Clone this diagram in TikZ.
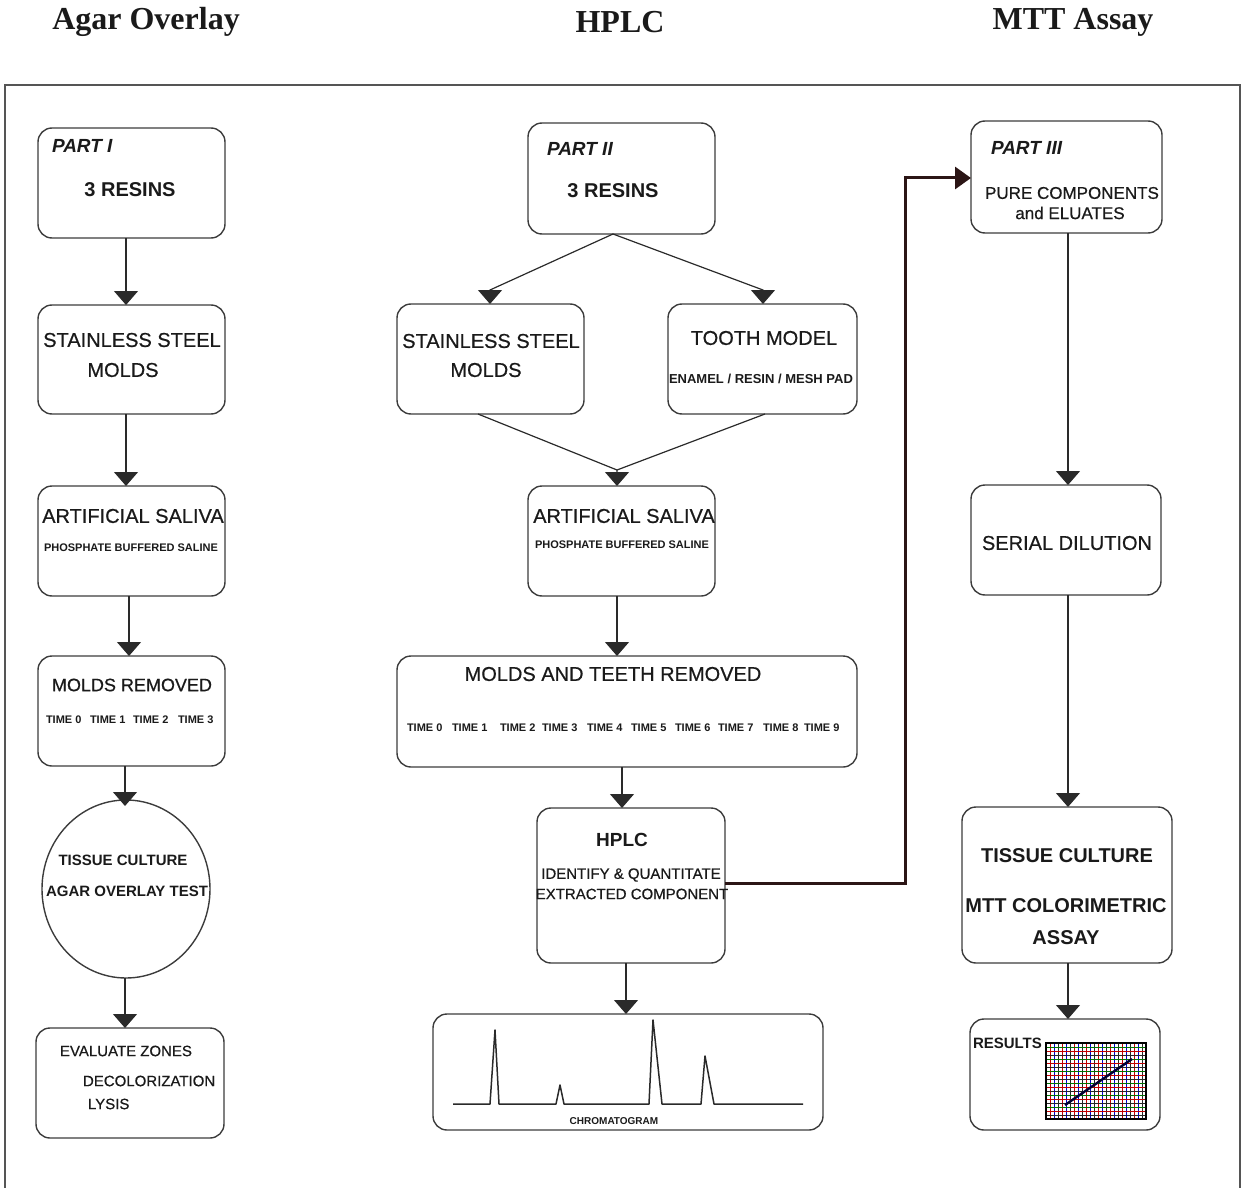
\documentclass[tikz,border=0pt]{standalone}
\usepackage{fontspec}
\setmainfont{Liberation Sans}
\newfontfamily\headfont{Liberation Serif}
\newfontfamily\semibold[FakeBold=0.6]{Liberation Sans}
\usetikzlibrary{arrows.meta,shapes.geometric}
\definecolor{boxc}{HTML}{3C3C3C}
\definecolor{txtc}{HTML}{1A1A1A}
\definecolor{linec}{HTML}{2A2A2A}
\definecolor{brownc}{HTML}{2B1515}
\definecolor{framec}{HTML}{555555}
\begin{document}
\begin{tikzpicture}[x=1pt,y=-1pt,
  box/.style={draw=boxc, line width=1.4pt, rounded corners=14pt, inner sep=0pt, outer sep=0pt},
  txt/.style={inner sep=0pt, outer sep=0pt, text=txtc, font=\fontsize{20}{22}\selectfont\semibold},
  txtb/.style={txt, font=\fontsize{20}{22}\selectfont\bfseries},
  part/.style={txt, anchor=west, font=\fontsize{19}{22}\selectfont\bfseries\itshape},
  tiny/.style={txt, font=\fontsize{11}{12}\selectfont\bfseries},
  mid/.style={txt, font=\fontsize{15}{17}\selectfont\semibold},
  midb/.style={txt, font=\fontsize{15}{17}\selectfont\bfseries},
  head/.style={txt, font=\fontsize{32}{34}\selectfont\headfont\bfseries},
  arr/.style={draw=linec, line width=1.2pt, -{Triangle[width=24pt,length=14pt]}},
  plain/.style={draw=linec, line width=1.2pt},
  thickarr/.style={draw=brownc, line width=3pt, -{Triangle[width=22pt,length=16pt]}}
]
\useasboundingbox (0,0) rectangle (1243,1188);
% headings
\node[head] (h1) at (146,22) {Agar Overlay};
\node[head] (h2) at (620,22) {HPLC};
\node[head] (h3) at (1073,22) {MTT Assay};
% frame
\draw[framec, line width=1.5pt] (5,1188) -- (5,85) -- (1240,85) -- (1240,1188);

% ---------- column 1 ----------
\node[box, minimum width=187pt, minimum height=110pt] (p1) at (131.5,183) {};
\node[part] (p1a) at (52,146) {PART I};
\node[txtb] (p1b) at (130,190) {3 RESINS};

\node[box, minimum width=187pt, minimum height=109pt] (sm1) at (131.5,359.5) {};
\node[txt] (sm1a) at (132,340) {STAINLESS STEEL};
\node[txt] (sm1b) at (123,370) {MOLDS};

\node[box, minimum width=187pt, minimum height=110pt] (sa1) at (131.5,541) {};
\node[txt] (sa1a) at (133,516) {ARTIFICIAL SALIVA};
\node[tiny] (sa1b) at (131,548) {PHOSPHATE BUFFERED SALINE};

\node[box, minimum width=187pt, minimum height=110pt] (mr1) at (131.5,711) {};
\node[txt, font=\fontsize{18}{20}\selectfont\semibold] (mr1a) at (132,685) {MOLDS REMOVED};
\node[tiny, anchor=west] (t10) at (46,720) {TIME 0};
\node[tiny, anchor=west] (t11) at (90,720) {TIME 1};
\node[tiny, anchor=west] (t12) at (133,720) {TIME 2};
\node[tiny, anchor=west] (t13) at (178,720) {TIME 3};

\node[draw=boxc, line width=1.4pt, ellipse, inner sep=0pt, outer sep=0pt, minimum width=168pt, minimum height=178pt] (el) at (126,889) {};
\node[midb] (ela) at (123,860) {TISSUE CULTURE};
\node[midb] (elb) at (127,891) {AGAR OVERLAY TEST};

\node[box, minimum width=188pt, minimum height=110pt] (ev) at (130,1083) {};
\node[mid, anchor=west] (eva) at (60,1051) {EVALUATE ZONES};
\node[mid, anchor=west] (evb) at (83,1081) {DECOLORIZATION};
\node[mid, anchor=west] (evc) at (88,1104) {LYSIS};

\draw[arr] (p1.south -| 126,0) -- (sm1.north -| 126,0);
\draw[arr] (sm1.south -| 126,0) -- (sa1.north -| 126,0);
\draw[arr] (sa1.south -| 129,0) -- (mr1.north -| 129,0);
\draw[arr] (mr1.south -| 125,0) -- (125,806);
\draw[arr] (el.south -| 125,0) -- (ev.north -| 125,0);

% ---------- column 2 ----------
\node[box, minimum width=187pt, minimum height=111pt] (p2) at (621.5,178.5) {};
\node[part] (p2a) at (547,149) {PART II};
\node[txtb] (p2b) at (613,191) {3 RESINS};

\node[box, minimum width=187pt, minimum height=110pt] (sm2) at (490.5,359) {};
\node[txt] (sm2a) at (491,341) {STAINLESS STEEL};
\node[txt] (sm2b) at (486,370) {MOLDS};

\node[box, minimum width=189pt, minimum height=110pt] (tm) at (762.5,359) {};
\node[txt] (tma) at (764,338) {TOOTH MODEL};
\node[txt, font=\fontsize{13}{14}\selectfont\bfseries] (tmb) at (761,379) {ENAMEL / RESIN / MESH PAD};

\node[box, minimum width=187pt, minimum height=110pt] (sa2) at (621.5,541) {};
\node[txt] (sa2a) at (624,516) {ARTIFICIAL SALIVA};
\node[tiny] (sa2b) at (622,545) {PHOSPHATE BUFFERED SALINE};

\node[box, minimum width=460pt, minimum height=111pt] (mt) at (627,711.5) {};
\node[txt] (mta) at (613,674) {MOLDS AND TEETH REMOVED};
\node[tiny, anchor=west] (t20) at (407,728) {TIME 0};
\node[tiny, anchor=west] (t21) at (452,728) {TIME 1};
\node[tiny, anchor=west] (t22) at (500,728) {TIME 2};
\node[tiny, anchor=west] (t23) at (542,728) {TIME 3};
\node[tiny, anchor=west] (t24) at (587,728) {TIME 4};
\node[tiny, anchor=west] (t25) at (631,728) {TIME 5};
\node[tiny, anchor=west] (t26) at (675,728) {TIME 6};
\node[tiny, anchor=west] (t27) at (718,728) {TIME 7};
\node[tiny, anchor=west] (t28) at (763,728) {TIME 8};
\node[tiny, anchor=west] (t29) at (804,728) {TIME 9};

\node[box, minimum width=188pt, minimum height=155pt] (hp) at (631,885.5) {};
\node[txt, font=\fontsize{19}{21}\selectfont\bfseries] (hpa) at (622,840) {HPLC};
\node[mid] (hpb) at (631,875) {IDENTIFY \& QUANTITATE};
\node[mid] (hpc) at (632,894) {EXTRACTED COMPONENT};

\node[box, minimum width=390pt, minimum height=116pt] (ch) at (628,1072) {};
\node[txt, font=\fontsize{10}{11}\selectfont\bfseries] (cha) at (614,1121) {CHROMATOGRAM};
\draw[linec, line width=1.5pt, line join=round] (453,1104) -- (490,1104) -- (495,1030) -- (499,1104) -- (556,1104) -- (560,1085) -- (564,1104) -- (649,1104) -- (653,1020) -- (662,1104) -- (701,1104) -- (705,1056) -- (714,1104) -- (803,1104);

\coordinate (b1) at (490,290);
\coordinate (b2) at (763,290);
\coordinate (c1) at (617,470);
\draw[arr] (p2.south -| 613,0) -- (b1) -- (sm2.north -| b1);
\draw[arr] (p2.south -| 613,0) -- (b2) -- (tm.north -| b2);
\draw[plain] (sm2.south -| 478,0) -- (c1);
\draw[arr] (tm.south -| 765,0) -- (c1) -- (sa2.north -| c1);
\draw[arr] (sa2.south -| 617,0) -- (mt.north -| 617,0);
\draw[arr] (mt.south -| 622,0) -- (hp.north -| 622,0);
\draw[arr] (hp.south -| 626,0) -- (ch.north -| 626,0);

% ---------- column 3 ----------
\node[box, minimum width=191pt, minimum height=112pt] (p3) at (1066.5,177) {};
\node[part] (p3a) at (991,148) {PART III};
\node[txt, font=\fontsize{17}{19}\selectfont\semibold] (p3b) at (1072,193) {PURE COMPONENTS};
\node[txt, font=\fontsize{17}{19}\selectfont\semibold] (p3c) at (1070,213) {and ELUATES};

\node[box, minimum width=190pt, minimum height=110pt] (sd) at (1066,540) {};
\node[txt] (sda) at (1067,543) {SERIAL DILUTION};

\node[box, minimum width=210pt, minimum height=156pt] (tc) at (1067,885) {};
\node[txtb] (tca) at (1067,856) {TISSUE CULTURE};
\node[txtb] (tcb) at (1066,906) {MTT COLORIMETRIC};
\node[txtb] (tcc) at (1066,938) {ASSAY};

\node[box, minimum width=190pt, minimum height=111pt] (rs) at (1065,1074.5) {};
\node[midb, anchor=west] (rsa) at (973,1043) {RESULTS};
\foreach \i in {0,...,25}{
  \pgfmathtruncatemacro\m{mod(\i,3)}
  \ifcase\m \def\gc{black!85}\or\def\gc{red!75!black}\or\def\gc{blue!80!black}\fi
  \draw[\gc, line width=0.6pt] ({1046+4*\i},1043) -- ({1046+4*\i},1119);
}
\foreach \j in {0,...,19}{
  \pgfmathtruncatemacro\m{mod(\j,3)}
  \ifcase\m \def\gc{black!85}\or\def\gc{green!45!black}\or\def\gc{red!75!black}\fi
  \draw[\gc, line width=0.6pt] (1046,{1043+4*\j}) -- (1146,{1043+4*\j});
}
\draw[black, line width=1.2pt] (1046,1043) rectangle (1146,1119);
\draw[black!80!blue, line width=2.4pt] (1065,1105) -- (1132,1059);

\draw[arr] (p3.south -| 1068,0) -- (sd.north -| 1068,0);
\draw[arr] (sd.south -| 1068,0) -- (tc.north -| 1068,0);
\draw[arr] (tc.south -| 1068,0) -- (rs.north -| 1068,0);

% HPLC -> PART III
\coordinate (k1) at (905,883);
\coordinate (k2) at (905,178);
\draw[thickarr, line join=miter] (hp.east |- k1) -- (k1) -- (k2) -- (p3.west |- k2);
\end{tikzpicture}
\end{document}
